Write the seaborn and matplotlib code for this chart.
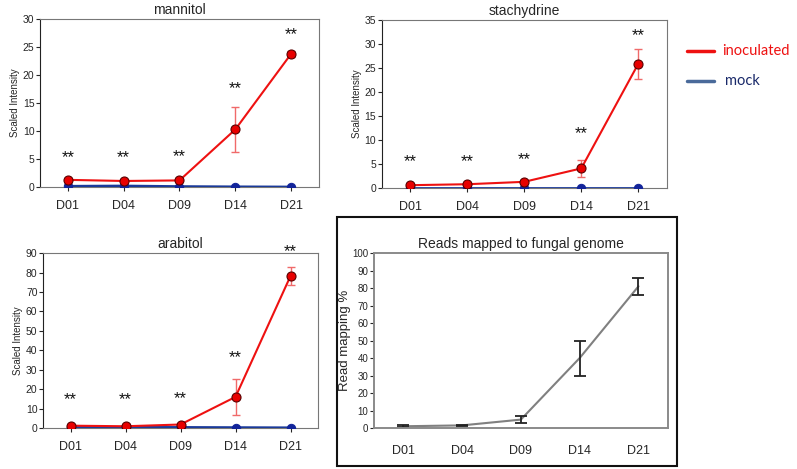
import pandas as pd
import seaborn as sns
import matplotlib.pyplot as plt
from matplotlib.patches import Rectangle

days = ['D01', 'D04', 'D09', 'D14', 'D21']

# metabolite panels: inoculated mean / error, mock mean, position of ** labels
mannitol_inoc = [1.3, 1.1, 1.2, 10.3, 23.8]
mannitol_err = [0.3, 0.2, 0.2, 4.1, 0.5]
mannitol_mock = [0.15, 0.2, 0.1, 0.05, 0.02]
mannitol_star = [5.3, 5.3, 5.5, 17.6, 27.3]

stachydrine_inoc = [0.6, 0.8, 1.3, 4.1, 25.9]
stachydrine_err = [0.2, 0.2, 0.3, 1.8, 3.1]
stachydrine_mock = [0.05, 0.05, 0.05, 0.05, 0.05]
stachydrine_star = [5.6, 5.6, 6.0, 11.4, 31.7]

arabitol_inoc = [1.2, 0.9, 1.8, 16.0, 78.2]
arabitol_err = [0.4, 0.3, 0.4, 9.2, 4.8]
arabitol_mock = [0.3, 0.3, 0.3, 0.2, 0.1]
arabitol_star = [14.4, 14.4, 15.0, 36.4, 90.5]

# fungal reads
reads_pct = [1.0, 1.5, 4.8, 40.0, 81.0]
reads_err = [0.6, 0.4, 2.0, 10.0, 5.0]

sns.set_style('white')
plt.rcParams['font.family'] = ['Liberation Sans', 'DejaVu Sans']

fig = plt.figure(figsize=(7.97, 4.69), dpi=100)

red = '#ee1111'
navy = '#12249a'


def metabolite_panel(rect, title, inoc, err, mock, star, ymax, ystep):
    ax = fig.add_axes(rect)
    df = pd.DataFrame({'day': days, 'inoc': inoc, 'mock': mock})
    ax.errorbar(days, inoc, yerr=err, fmt='none', ecolor='#f06a6a',
                elinewidth=1, capsize=3, capthick=1, zorder=2)
    sns.lineplot(data=df, x='day', y='mock', ax=ax, color='#1a3a9a', lw=2,
                 marker='o', markersize=6, markerfacecolor=navy,
                 markeredgecolor=navy, zorder=3)
    sns.lineplot(data=df, x='day', y='inoc', ax=ax, color=red, lw=1.5,
                 marker='o', markersize=6.5, markerfacecolor='#e80000',
                 markeredgecolor='#5a0000', markeredgewidth=0.8, zorder=4)
    for d, s in zip(days, star):
        ax.text(d, s, '**', ha='center', va='center', fontsize=12,
                color='#111111', clip_on=False)
    ax.set_xlim(-0.5, 4.5)
    ax.set_ylim(0, ymax)
    ax.set_yticks(range(0, ymax + 1, ystep))
    ax.set_title(title, fontsize=10, pad=4)
    ax.set_xlabel('')
    ax.set_ylabel('Scaled Intensity', fontsize=7, labelpad=2)
    ax.tick_params(axis='y', labelsize=7.5, length=3, left=True, pad=1)
    ax.tick_params(axis='x', labelsize=9, length=3, bottom=True, pad=6)
    for s in ['top', 'right', 'bottom']:
        ax.spines[s].set_color('#777777')
    ax.spines['left'].set_color('#222222')
    return ax


metabolite_panel([0.0502, 0.601, 0.350, 0.358], 'mannitol',
                 mannitol_inoc, mannitol_err, mannitol_mock, mannitol_star, 30, 5)
metabolite_panel([0.479, 0.599, 0.3576, 0.358], 'stachydrine',
                 stachydrine_inoc, stachydrine_err, stachydrine_mock,
                 stachydrine_star, 35, 5)
metabolite_panel([0.054, 0.0874, 0.345, 0.373], 'arabitol',
                 arabitol_inoc, arabitol_err, arabitol_mock, arabitol_star, 90, 10)

# reads mapped panel
ax4 = fig.add_axes([0.469, 0.0874, 0.369, 0.373])
reads_df = pd.DataFrame({'day': days, 'pct': reads_pct})
sns.lineplot(data=reads_df, x='day', y='pct', ax=ax4, color='#808080', lw=1.5)
ax4.errorbar(days, reads_pct, yerr=reads_err, fmt='none', ecolor='#222222',
             elinewidth=1.3, capsize=4, capthick=1.3)
ax4.set_xlim(-0.5, 4.5)
ax4.set_ylim(0, 100)
ax4.set_yticks(range(0, 101, 10))
ax4.set_title('Reads mapped to fungal genome', fontsize=10, pad=4)
ax4.set_xlabel('')
ax4.set_ylabel('Read mapping %', fontsize=9.5)
ax4.yaxis.set_label_coords(-0.078, 0.5)
ax4.tick_params(axis='y', labelsize=7, length=3, left=True, pad=1)
ax4.tick_params(axis='x', labelsize=9, length=0, pad=12)
for s in ax4.spines.values():
    s.set_color('#8a8a8a')
    s.set_linewidth(1.4)

# frame around reads panel
fig.patches.append(Rectangle((337 / 797, 3 / 469), 340 / 797, 249 / 469,
                             transform=fig.transFigure, fill=False,
                             edgecolor='#111111', lw=1.5))

# legend
fig.lines.append(plt.Line2D([687 / 797, 714 / 797], [1 - 51 / 469, 1 - 51 / 469],
                            transform=fig.transFigure, color=red, lw=2.5))
fig.lines.append(plt.Line2D([687 / 797, 714 / 797], [1 - 81 / 469, 1 - 81 / 469],
                            transform=fig.transFigure, color='#4a6a9a', lw=2.5))
fig.text(722 / 797, 1 - 51 / 469, 'inoculated', color=red, fontsize=10.5,
         va='center', family=['Lato', 'DejaVu Sans'])
fig.text(725 / 797, 1 - 81 / 469, 'mock', color='#1a2a6a', fontsize=10.5,
         va='center', family=['Lato', 'DejaVu Sans'])

fig.savefig('out.png', dpi=100)
